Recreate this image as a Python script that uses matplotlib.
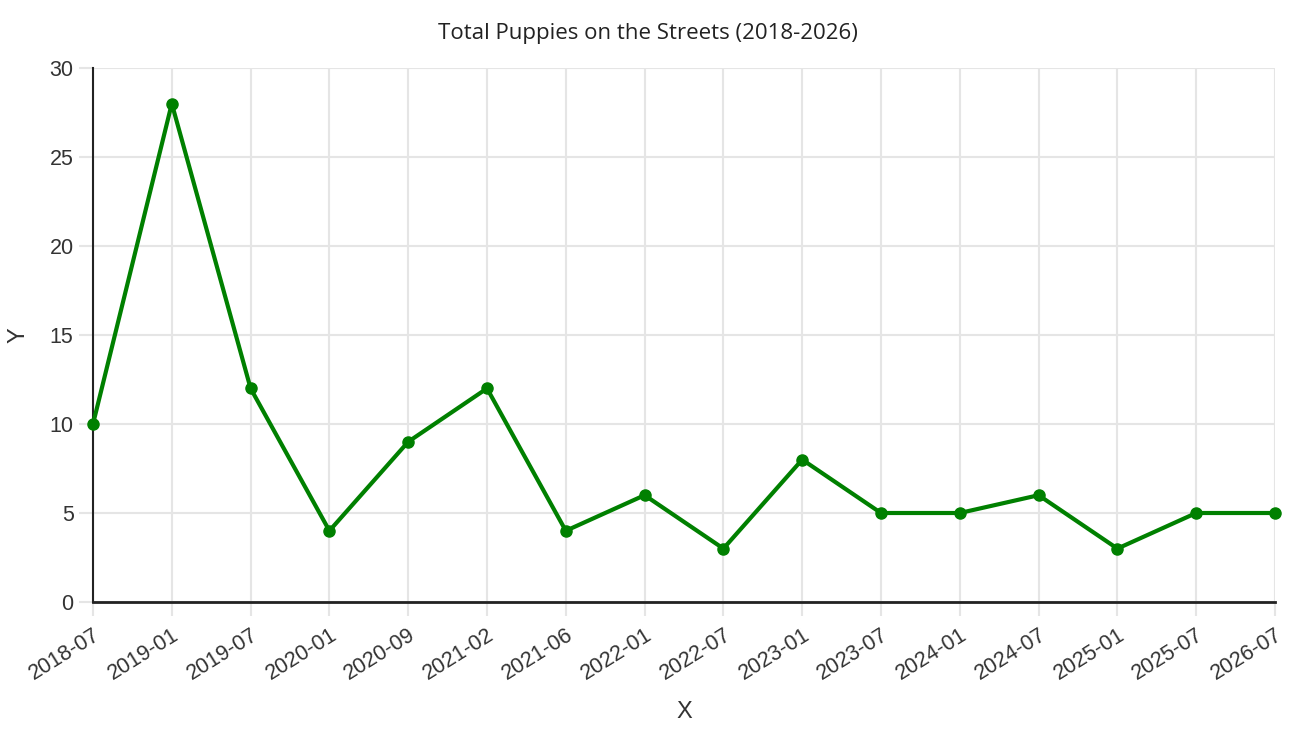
import matplotlib
matplotlib.use("Agg")
import matplotlib.pyplot as plt

dates = ["2018-07", "2019-01", "2019-07", "2020-01", "2020-09", "2021-02", "2021-06",
         "2022-01", "2022-07", "2023-01", "2023-07", "2024-01", "2024-07", "2025-01",
         "2025-07", "2026-07"]
values = [10, 28, 12, 4, 9, 12, 4, 6, 3, 8, 5, 5, 6, 3, 5, 5]
yticks = [0, 5, 10, 15, 20, 25, 30]

plt.rcParams['font.family'] = ['Liberation Sans', 'DejaVu Sans']

fig = plt.figure(figsize=(12.96, 7.36), dpi=100)
ax = fig.add_axes([93/1296, 134/736, (1275-93)/1296, (602-68)/736])

x = list(range(len(dates)))
ax.plot(x, values, color='#008000', linewidth=3, marker='o', markersize=8, zorder=3, clip_on=False)

ax.set_xlim(0, len(dates) - 1)
ax.set_ylim(0, 30)
ax.set_yticks(yticks)
ax.set_xticks(x)
ax.set_xticklabels(dates, rotation=32, ha='right', rotation_mode='anchor', fontsize=15.5, color='#333333')
ax.tick_params(axis='y', labelsize=15.5, labelcolor='#333333', length=10, color='#e5e5e5', width=1.5, pad=4)
ax.tick_params(axis='x', length=10, color='#e5e5e5', width=1.5, pad=6)
ax.grid(True, color='#e5e5e5', linewidth=1.5, zorder=0)
ax.set_axisbelow(True)

for side in ['top', 'right']:
    ax.spines[side].set_visible(False)
ax.spines['left'].set_color('#222222')
ax.spines['bottom'].set_color('#222222')
ax.spines['left'].set_linewidth(1.5)
ax.spines['bottom'].set_linewidth(2)

ax.set_xlabel('X', fontsize=17, color='#333333')
ax.xaxis.set_label_coords(0.5, -(712 - 602) / 534, transform=ax.transAxes)
ax.xaxis.label.set_va('center')
ax.set_ylabel('Y', fontsize=17, color='#333333')
ax.yaxis.set_label_coords(-(93 - 19) / 1182, 0.5, transform=ax.transAxes)
ax.yaxis.label.set_va('center')
fig.text(0.5, 1 - 34/736, 'Total Puppies on the Streets (2018-2026)', ha='center', va='center',
         fontsize=16, color='#222222', family=['Open Sans', 'DejaVu Sans'])

fig.savefig('out.png', dpi=100, facecolor='white')
